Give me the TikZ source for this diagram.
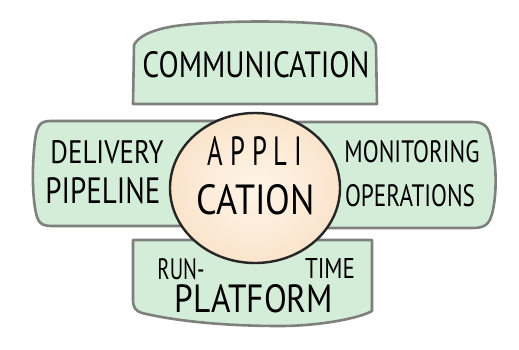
\documentclass[tikz,border=0pt]{standalone}
\usepackage{fontspec}
\setmainfont{PT Sans}
\usepackage{graphicx}
\usetikzlibrary{shapes.geometric}
\definecolor{boxgreen}{HTML}{D4EDD8}
\definecolor{boxline}{HTML}{7E807E}
\definecolor{peach}{HTML}{F7D0A8}
\definecolor{peachlight}{HTML}{FEF4E8}
\pgfdeclareradialshading{appshade}{\pgfpoint{0bp}{0bp}}{color(0bp)=(peachlight);
    color(18bp)=(peachlight!70!peach); color(50bp)=(peach)}
% a word squeezed to a given width and cap height
\newcommand{\hand}[3]{\resizebox{#1pt}{#2pt}{#3}}
\tikzstyle{box} = [draw=boxline, fill=boxgreen, line width=2.6pt, line join=round]
\tikzstyle{app} = [ellipse, draw=black!85, line width=2.4pt
,minimum width=170pt, minimum height=150pt
,shading=appshade
]
\tikzstyle{word} = [inner sep=0pt, text=black]

\begin{document}
\begin{tikzpicture}[x=1pt,y=-1pt]
    \useasboundingbox (0,0) rectangle (519,349);
    % First the four boxes around the middle
    % top
    \draw[box] (133,104) -- (134,45) .. controls (138,37) and (150,30) .. (175,26)
        .. controls (220,20) and (300,20) .. (345,26)
        .. controls (365,30) and (374,36) .. (376,46) -- (377,104) -- cycle;
    % left
    \draw[box] (255,121) -- (50,121) .. controls (40,121) and (37,126) .. (35,140)
        .. controls (32,165) and (32,195) .. (36,213)
        .. controls (38,223) and (42,226) .. (52,226) -- (255,226) -- cycle;
    % right
    \draw[box] (255,122) -- (472,122) .. controls (485,122) and (489,127) .. (491,140)
        .. controls (497,165) and (497,195) .. (492,214)
        .. controls (489,225) and (484,228) .. (472,228) -- (255,228) -- cycle;
    % bottom
    \draw[box] (133,240) -- (372,240) -- (372,311)
        .. controls (360,318) and (320,326) .. (280,326)
        .. controls (230,326) and (180,322) .. (142,313)
        .. controls (136,311) and (133,308) .. (133,300) -- cycle;

    % Then the application on top of them
    \node[app] (app) at (255,188) {};

    % Now the words
    \foreach \pos/\name/\w/\h/\txt in {{(256,65)/comm/227/26/COMMUNICATION},
        {(107,152)/deliv/113/23/DELIVERY}, {(103,191)/pipe/115/26/PIPELINE},
        {(255,151)/appli/95/29/A P P L I}, {(256,200)/cation/118/30/CATION},
        {(412,152)/monit/135/22/MONITORING}, {(410,196)/oper/130/22/OPERATIONS},
        {(181,269)/run/47/21/RUN-}, {(330,268)/time/50/20/TIME},
        {(254,299)/platf/158/28/PLATFORM}}
        \node[word] (\name) at \pos {\hand{\w}{\h}{\txt}};
\end{tikzpicture}
\end{document}
